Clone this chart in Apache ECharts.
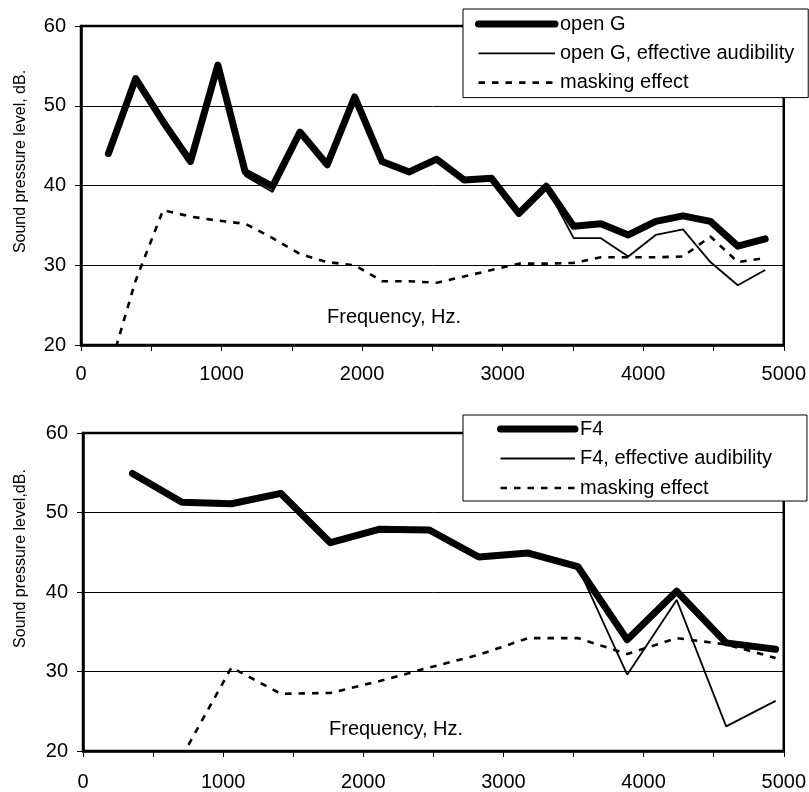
<!DOCTYPE html>
<html>
<head>
<meta charset="utf-8">
<script src="https://cdn.jsdelivr.net/npm/echarts@6/dist/echarts.min.js"></script>
<style>html,body{margin:0;padding:0;background:#fff}#c{width:809px;height:792px}</style>
</head>
<body>
<div id="c"></div>
<script>
// ---- data ----
var freqG    = [195, 389, 584, 779, 974, 1168, 1363, 1558, 1752, 1947, 2142, 2336, 2531, 2726, 2921, 3115, 3310, 3505, 3699, 3894, 4089, 4283, 4478, 4673, 4868];
var openG    = [44.0, 53.4, 48.0, 43.0, 55.1, 41.7, 39.9, 46.7, 42.6, 51.1, 43.0, 41.7, 43.3, 40.7, 40.9, 36.5, 39.9, 34.9, 35.2, 33.8, 35.5, 36.2, 35.5, 32.4, 33.3];
var openGEff = [44.0, 53.4, 48.0, 43.0, 55.1, 41.2, 39.2, 46.7, 42.6, 51.1, 43.0, 41.7, 43.3, 40.7, 40.9, 36.5, 39.9, 33.4, 33.4, 31.1, 33.8, 34.5, 30.4, 27.5, 29.4];
var maskG    = [16.5, 28.1, 36.9, 36.1, 35.6, 35.2, 33.4, 31.4, 30.4, 30.0, 28.0, 28.0, 27.8, 28.6, 29.4, 30.2, 30.2, 30.3, 31.0, 31.0, 31.0, 31.1, 33.6, 30.4, 30.9];

var freqF    = [353, 706, 1059, 1412, 1765, 2118, 2471, 2824, 3177, 3530, 3883, 4236, 4589, 4942];
var f4       = [54.9, 51.3, 51.1, 52.4, 46.2, 47.9, 47.8, 44.4, 44.9, 43.2, 34.0, 40.1, 33.6, 32.8];
var f4Eff    = [54.9, 51.3, 51.1, 52.4, 46.2, 47.9, 47.8, 44.4, 44.9, 43.2, 29.6, 39.0, 23.1, 26.3];
var maskF    = [null, 19.3, 30.5, 27.2, 27.3, 28.8, 30.5, 32.1, 34.2, 34.2, 32.2, 34.2, 33.4, 31.7];

var xTicks = [0, 1000, 2000, 3000, 4000, 5000];
var yTicks = [20, 30, 40, 50, 60];

var namesTop = ['open G', 'open G, effective audibility', 'masking effect'];
var namesBot = ['F4', 'F4, effective audibility', 'masking effect'];
var yTitleTop = 'Sound pressure level, dB.';
var yTitleBot = 'Sound pressure level,dB.';
var xTitle = 'Frequency, Hz.';

// ---- styles ----
var FONT = 'Liberation Sans, Arial, sans-serif';
var THICK = { color: '#000', width: 7, cap: 'round', join: 'round' };
var THIN = { color: '#000', width: 1.8 };
var DASH = { color: '#000', width: 2.6, type: [6.5, 7] };

function pairs(xs, ys) { return xs.map(function (x, i) { return [x, ys[i]]; }); }

function xAxisCfg(gi, margin) {
  return {
    type: 'value', gridIndex: gi, min: 0, max: 5000, interval: 500,
    axisLine: { show: true, onZero: false, lineStyle: { color: '#000', width: 2.5 } },
    axisTick: { show: true, inside: false, length: 6, lineStyle: { color: '#000', width: 1 } },
    axisLabel: {
      margin: margin, fontSize: 20, fontFamily: FONT, color: '#000',
      formatter: function (v) { return xTicks.indexOf(v) >= 0 ? String(v) : ''; }
    },
    splitLine: { show: false }
  };
}
function yAxisCfg(gi) {
  return {
    type: 'value', gridIndex: gi, min: yTicks[0], max: yTicks[yTicks.length - 1], interval: 10,
    axisLine: { show: true, lineStyle: { color: '#000', width: 2.5 } },
    axisTick: { show: true, inside: false, length: 6, lineStyle: { color: '#000', width: 1 } },
    axisLabel: { margin: 15, fontSize: 20, fontFamily: FONT, color: '#000' },
    splitLine: { show: true, lineStyle: { color: '#000', width: 1 } }
  };
}
function mkSeries(name, xs, ys, gi, style, z) {
  return { name: name, type: 'line', xAxisIndex: gi, yAxisIndex: gi, data: pairs(xs, ys),
    symbol: 'none', showSymbol: false, clip: true, z: z, connectNulls: false,
    lineStyle: style };
}
function legendCfg(names, left, top, padding, gap, iw) {
  var styles = [THICK, THIN, DASH];
  return {
    data: names.map(function (n, i) { return { name: n, lineStyle: styles[i], itemStyle: { opacity: 0 } }; }),
    orient: 'vertical', left: left, top: top, padding: padding,
    itemWidth: iw, itemHeight: 20, itemGap: gap,
    backgroundColor: '#fff', borderColor: '#000', borderWidth: 1, borderRadius: 0,
    itemStyle: { opacity: 0 },
    textStyle: { fontSize: 20, fontFamily: FONT, color: '#000', lineHeight: 20 },
    selectedMode: false, z: 10
  };
}

var chart = echarts.init(document.getElementById('c'), null, { renderer: 'canvas' });
chart.setOption({
  backgroundColor: '#fff',
  animation: false,
  grid: [
    { left: 81, top: 26, width: 704, height: 319, show: true, borderColor: '#000', borderWidth: 2.5, backgroundColor: 'transparent' },
    { left: 83, top: 433, width: 702, height: 319, show: true, borderColor: '#000', borderWidth: 2.5, backgroundColor: 'transparent' }
  ],
  xAxis: [xAxisCfg(0, 19), xAxisCfg(1, 21)],
  yAxis: [yAxisCfg(0), yAxisCfg(1)],
  legend: [
    legendCfg(namesTop, 463, 9, [5, 14, 5, 12], 9.3, 76.5),
    legendCfg(namesBot, 463, 415, [4, 35, 3, 34], 9.5, 74.5)
  ],
  graphic: [
    { type: 'text', x: 20.5, y: 161.5, rotation: Math.PI / 2,
      style: { text: yTitleTop, fontSize: 16, fontFamily: FONT, fill: '#000', align: 'center', verticalAlign: 'middle' } },
    { type: 'text', x: 20.5, y: 558.5, rotation: Math.PI / 2,
      style: { text: yTitleBot, fontSize: 16, fontFamily: FONT, fill: '#000', align: 'center', verticalAlign: 'middle' } },
    { type: 'text', x: 327, y: 317, z: 5,
      style: { text: xTitle, fontSize: 20, fontFamily: FONT, fill: '#000', align: 'left', verticalAlign: 'middle' } },
    { type: 'text', x: 329, y: 729, z: 5,
      style: { text: xTitle, fontSize: 20, fontFamily: FONT, fill: '#000', align: 'left', verticalAlign: 'middle' } }
  ],
  series: [
    mkSeries(namesTop[0], freqG, openG, 0, THICK, 2),
    mkSeries(namesTop[1], freqG, openGEff, 0, THIN, 3),
    mkSeries(namesTop[2], freqG, maskG, 0, DASH, 4),
    mkSeries(namesBot[0], freqF, f4, 1, THICK, 2),
    mkSeries(namesBot[1], freqF, f4Eff, 1, THIN, 3),
    mkSeries(namesBot[2], freqF, maskF, 1, DASH, 4)
  ]
});
</script>
</body>
</html>
